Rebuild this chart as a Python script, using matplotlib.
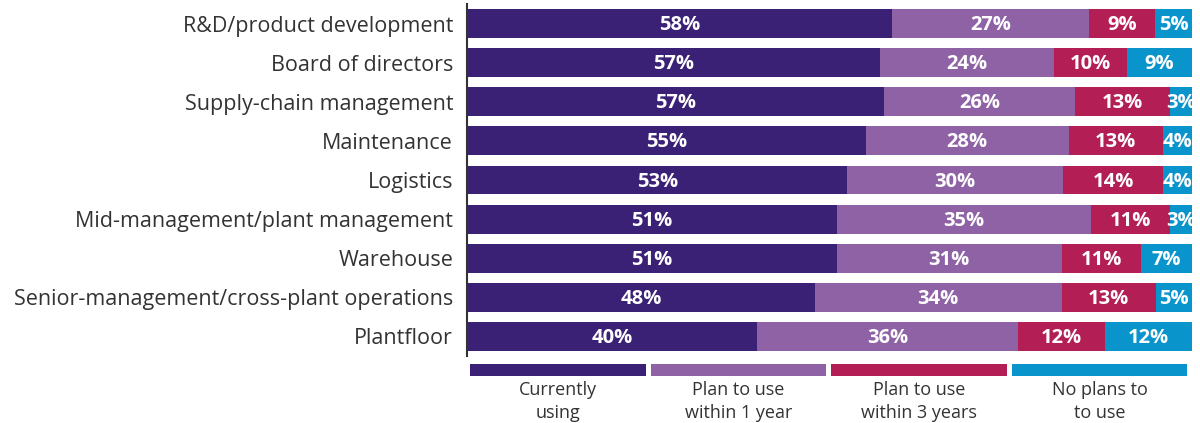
import numpy as np
import matplotlib
matplotlib.use('Agg')
import matplotlib.pyplot as plt

plt.rcParams['font.family'] = ['Open Sans', 'DejaVu Sans']

categories = [
    'R&D/product development',
    'Board of directors',
    'Supply-chain management',
    'Maintenance',
    'Logistics',
    'Mid-management/plant management',
    'Warehouse',
    'Senior-management/cross-plant operations',
    'Plantfloor',
]
currently_using = [58, 57, 57, 55, 53, 51, 51, 48, 40]
within_1_year = [27, 24, 26, 28, 30, 35, 31, 34, 36]
within_3_years = [9, 10, 13, 13, 14, 11, 11, 13, 12]
no_plans = [5, 9, 3, 4, 4, 3, 7, 5, 12]

series_labels = ['Currently\nusing', 'Plan to use\nwithin 1 year',
                 'Plan to use\nwithin 3 years', 'No plans to\nto use']
colors = ['#3b2176', '#8f62a6', '#b31f55', '#0a94cc']

data = np.array([currently_using, within_1_year, within_3_years, no_plans], dtype=float)
# every row is stretched to the full width
shares = data / data.sum(axis=0) * 100

fig = plt.figure(figsize=(12, 4.23), dpi=100)
ax = fig.add_axes([467 / 1200, 1 - 356 / 423, 725 / 1200, 352 / 423])

y = np.arange(len(categories))
left = np.zeros(len(categories))
for vals, share, col in zip(data, shares, colors):
    ax.barh(y, share, left=left, height=0.74, color=col, edgecolor='none')
    for yi, v, l, s in zip(y, vals, left, share):
        ax.text(l + s / 2, yi + 0.04, f'{v:.0f}%', ha='center', va='center',
                color='white', fontsize=14.5, fontweight='bold')
    left += share

ax.set_xlim(0, 100)
ax.set_ylim(len(categories) - 0.5, -0.5)
ax.set_yticks(y)
ax.set_yticklabels(categories, fontsize=15.5, color='#333333')
ax.tick_params(axis='y', length=0, pad=10)
ax.set_xticks([])
for side in ['top', 'right', 'bottom']:
    ax.spines[side].set_visible(False)
ax.spines['left'].set_color('#333333')
ax.spines['left'].set_linewidth(1.5)

# legend: coloured strips with captions underneath
lax = fig.add_axes([470 / 1200, 1 - 423 / 423, 722 / 1200, 60 / 423])
lax.set_xlim(0, 4)
lax.set_ylim(60, 0)
lax.axis('off')
for i, (lab, col) in enumerate(zip(series_labels, colors)):
    lax.barh(7, 0.975, left=i, height=12, color=col, align='center')
    lax.text(i + 0.4875, 38.5, lab, ha='center', va='center', fontsize=13,
             color='#333333', linespacing=1.3)

fig.savefig('out.png', dpi=100, facecolor='white')
